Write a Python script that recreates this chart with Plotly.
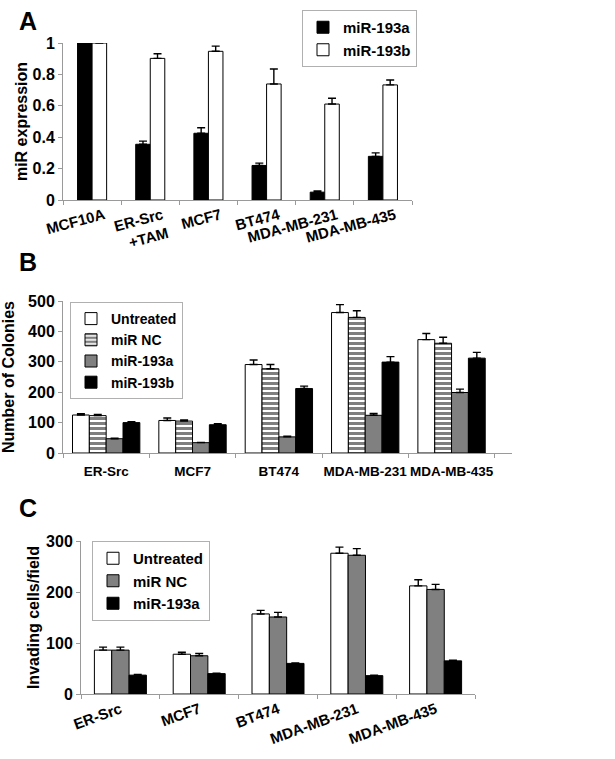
import plotly.graph_objects as go

W, H = 615, 759

# ---------------- data ----------------
a_categories = ["MCF10A", "ER-Src<br>+TAM", "MCF7", "BT474", "MDA-MB-231", "MDA-MB-435"]
a_mir193a = [1.0, 0.355, 0.425, 0.22, 0.05, 0.278]
a_mir193a_err = [None, 0.02, 0.035, 0.015, 0.008, 0.022]
a_mir193b = [1.0, 0.902, 0.947, 0.739, 0.611, 0.733]
a_mir193b_err = [None, 0.03, 0.033, 0.095, 0.037, 0.031]

b_categories = ["ER-Src", "MCF7", "BT474", "MDA-MB-231", "MDA-MB-435"]
b_untreated = [125, 107, 291, 462, 373]
b_untreated_err = [4, 8, 15, 26, 20]
b_mirnc = [123, 105, 277, 446, 361]
b_mirnc_err = [4, 4, 14, 22, 20]
b_mir193a = [47, 34, 53, 124, 199]
b_mir193a_err = [2, 1, 2, 6, 11]
b_mir193b = [100, 93, 212, 299, 312]
b_mir193b_err = [3, 3, 8, 18, 19]

c_categories = ["ER-Src", "MCF7", "BT474", "MDA-MB-231", "MDA-MB-435"]
c_untreated = [86, 78, 157, 276, 212]
c_untreated_err = [6, 4, 7, 12, 12]
c_mirnc = [86, 75, 151, 272, 205]
c_mirnc_err = [6, 4.5, 9, 13, 10]
c_mir193a = [37, 40, 60, 36, 65]
c_mir193a_err = [1.5, 1, 1, 1, 1.5]

a_yticks = [0, 0.2, 0.4, 0.6, 0.8, 1.0]
a_yticklabels = ["0", "0.2", "0.4", "0.6", "0.8", "1"]
b_yticks = [0, 100, 200, 300, 400, 500]
c_yticks = [0, 100, 200, 300]

# ---------------- styling ----------------
FONT = "Liberation Sans, Arial, sans-serif"
AXC = "#9a9a9a"


def px_x(p):
    return p / W


def px_y(p):
    return 1 - p / H


def err(arr):
    return dict(type="data", symmetric=False, array=arr,
                arrayminus=[0] * len(arr), color="black",
                thickness=1.4, width=4, visible=True)


fig = go.Figure()


def add_bars(xs, series, width, xaxis, yaxis, legend):
    n = len(series)
    for i, (name, vals, errs, style) in enumerate(series):
        offset = -n * width / 2 + i * width
        fig.add_trace(go.Bar(
            x=xs, y=vals, name=name,
            width=width, offset=offset,
            marker=style,
            error_y=err(errs),
            xaxis=xaxis, yaxis=yaxis, legend=legend,
        ))


white = dict(color="white", line=dict(color="black", width=1))
black = dict(color="black", line=dict(color="black", width=1))
gray = dict(color="#808080", line=dict(color="black", width=1))
striped = dict(color="white", line=dict(color="black", width=1),
               pattern=dict(shape="-", fgcolor="black", bgcolor="white",
                            size=5, solidity=0.6))

add_bars(a_categories,
         [("miR-193a", a_mir193a, a_mir193a_err, black),
          ("miR-193b", a_mir193b, a_mir193b_err, white)],
         0.25, "x", "y", "legend")

b_pos = list(range(len(b_categories)))
add_bars(b_pos,
         [("Untreated", b_untreated, b_untreated_err, white),
          ("miR NC", b_mirnc, b_mirnc_err, striped),
          ("miR-193a", b_mir193a, b_mir193a_err, gray),
          ("miR-193b", b_mir193b, b_mir193b_err, black)],
         0.195, "x2", "y2", "legend2")

add_bars(c_categories,
         [("Untreated", c_untreated, c_untreated_err, white),
          ("miR NC", c_mirnc, c_mirnc_err, gray),
          ("miR-193a", c_mir193a, c_mir193a_err, black)],
         0.22, "x3", "y3", "legend3")

tickfont = dict(family=FONT, size=16, color="black", weight="bold")
xtickfont = dict(family=FONT, size=15, color="black", weight="bold")
titlefont = dict(family=FONT, size=16, color="black", weight="bold")


def xaxis(domain, angle, anchor, shift=0):
    return dict(domain=domain, showline=True, linecolor=AXC, linewidth=1,
                ticks="outside", tickson="boundaries", ticklen=4,
                tickcolor=AXC, tickangle=angle, tickfont=xtickfont,
                ticklabelshift=shift,
                showgrid=False, zeroline=False, fixedrange=True,
                automargin=False, anchor=anchor)


def yaxis(domain, rng, tickvals, ticktext, title, anchor, standoff):
    return dict(domain=domain, range=rng, tickvals=tickvals,
                ticktext=ticktext, showline=True, linecolor=AXC,
                linewidth=1, ticks="outside", ticklen=4, tickcolor=AXC,
                tickfont=tickfont, showgrid=False, zeroline=False,
                anchor=anchor, automargin=False, fixedrange=True,
                title=dict(text=title, font=titlefont, standoff=standoff))


def legend(x, y, size):
    return dict(x=x, y=y, xanchor="left", yanchor="top",
                bgcolor="white", bordercolor="#b0b0b0", borderwidth=1,
                font=dict(family=FONT, size=size, color="black",
                          weight="bold"),
                itemwidth=30, tracegroupgap=0, traceorder="normal")


xaxis2 = dict(domain=[px_x(63), px_x(512)], showline=True, linecolor=AXC,
              linewidth=1, range=[-0.5, len(b_categories) - 0.3],
              tickmode="array", tickvals=b_pos, ticktext=b_categories,
              ticks="", tickangle=0, ticklabelstandoff=6,
              tickfont=dict(xtickfont, size=13.5),
              minor=dict(tickmode="array",
                         tickvals=[p - 0.5 for p in b_pos] + [b_pos[-1] + 0.5],
                         ticks="outside", ticklen=4, tickcolor=AXC,
                         showgrid=False),
              showgrid=False, zeroline=False, fixedrange=True,
              automargin=False, anchor="y2")

fig.update_layout(
    width=W, height=H,
    margin=dict(l=0, r=0, t=0, b=0, pad=0, autoexpand=False),
    paper_bgcolor="white", plot_bgcolor="white",
    showlegend=True,
    xaxis=xaxis([px_x(63), px_x(412)], -15, "y", 12),
    yaxis=yaxis([px_y(200), px_y(43)], [0, 1.0], a_yticks, a_yticklabels,
                "miR expression", "x", 0),
    xaxis2=xaxis2,
    yaxis2=yaxis([px_y(453), px_y(301)], [0, 500], b_yticks,
                 [str(v) for v in b_yticks], "Number of Colonies", "x2", 9),
    xaxis3=xaxis([px_x(81), px_x(475)], -20, "y3"),
    yaxis3=yaxis([px_y(694), px_y(541)], [0, 300], c_yticks,
                 [str(v) for v in c_yticks], "Invading cells/field", "x3", 2),
    legend=legend(px_x(302), px_y(10), 15),
    legend2=legend(px_x(70), px_y(302), 14),
    legend3=legend(px_x(92), px_y(541), 15),
)

for label, top in [("A", 5), ("B", 246), ("C", 492)]:
    fig.add_annotation(text=label, x=px_x(17), y=px_y(top), xref="paper",
                       yref="paper", xanchor="left", yanchor="top",
                       showarrow=False,
                       font=dict(family=FONT, size=25, color="black",
                                 weight="bold"))

fig.write_html("out.html",
               config={"displayModeBar": False},
               post_script="document.body.style.margin='0';"
                           "document.body.style.padding='0';")
